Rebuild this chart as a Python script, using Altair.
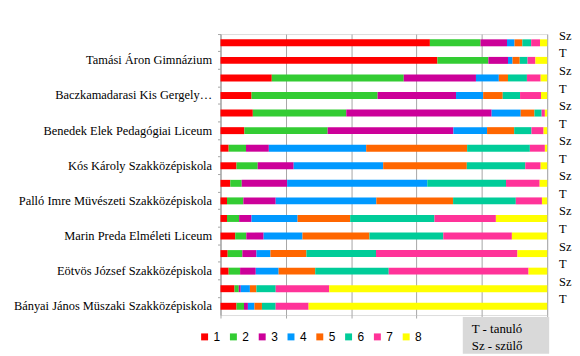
import altair as alt
import pandas as pd

schools = [
    "Tamási Áron Gimnázium",
    "Baczkamadarasi Kis Gergely…",
    "Benedek Elek Pedagógiai Liceum",
    "Kós Károly Szakközépiskola",
    "Palló Imre Müvészeti Szakközépiskola",
    "Marin Preda Elméleti Liceum",
    "Eötvös József Szakközépiskola",
    "Bányai János Müszaki Szakközépiskola",
]
respondents = ["Sz", "T"]
categories = ["1", "2", "3", "4", "5", "6", "7", "8"]
colors = ["#FF0000", "#33CC33", "#CC0099", "#0099FF", "#FF6600", "#00CC99", "#FF3399", "#FFFF00"]

# percentage shares of answers 1..8, parent (Sz) and student (T) per school
tamasi_sz = [64.1, 15.5, 8.1, 2.3, 2.4, 2.7, 2.7, 2.2]
tamasi_t = [66.4, 15.6, 6.0, 1.4, 2.2, 2.4, 2.4, 3.6]
baczka_sz = [15.7, 40.4, 22.1, 7.0, 2.8, 5.8, 4.2, 2.0]
baczka_t = [9.5, 38.6, 24.0, 8.3, 6.0, 5.3, 6.4, 1.9]
benedek_sz = [9.9, 28.6, 44.5, 8.9, 4.2, 2.2, 1.0, 0.7]
benedek_t = [7.3, 25.5, 38.5, 10.3, 8.3, 5.3, 3.7, 1.1]
kos_sz = [2.5, 5.3, 7.0, 29.8, 30.9, 19.2, 4.6, 0.7]
kos_t = [4.9, 6.5, 11.0, 27.4, 25.6, 17.9, 4.7, 2.0]
pallo_sz = [3.0, 3.5, 13.9, 42.9, 0.0, 24.1, 10.3, 2.3]
pallo_t = [2.0, 5.0, 9.9, 30.8, 23.5, 19.2, 8.0, 1.6]
marin_sz = [2.0, 3.7, 3.8, 14.1, 16.1, 25.8, 18.8, 15.7]
marin_t = [4.5, 3.4, 5.3, 11.9, 20.5, 22.6, 21.0, 10.8]
eotvos_sz = [2.2, 4.5, 4.3, 4.3, 11.0, 21.3, 43.3, 9.1]
eotvos_t = [2.5, 3.5, 4.8, 7.0, 11.2, 22.5, 42.8, 5.7]
banyai_sz = [4.3, 1.3, 0.6, 2.8, 2.0, 5.9, 16.4, 66.7]
banyai_t = [4.9, 2.3, 1.2, 2.0, 2.3, 4.2, 10.1, 73.1]

series = [
    (tamasi_sz, tamasi_t), (baczka_sz, baczka_t), (benedek_sz, benedek_t),
    (kos_sz, kos_t), (pallo_sz, pallo_t), (marin_sz, marin_t),
    (eotvos_sz, eotvos_t), (banyai_sz, banyai_t),
]

rows = []
records = []
label_records = []
for school, pair in zip(schools, series):
    for resp, vals in zip(respondents, pair):
        key = school + "|" + resp
        rows.append(key)
        label_records.append({"row": key, "resp": resp})
        for i, (c, v) in enumerate(zip(categories, vals)):
            records.append({"row": key, "cat": c, "idx": i, "value": v})

df = pd.DataFrame(records)
df_lab = pd.DataFrame(label_records)

W, H = 329, 283
GRID = "#A6A6A6"

y_enc = alt.Y(
    "row:N", sort=rows,
    scale=alt.Scale(paddingInner=0, paddingOuter=0),
    axis=alt.Axis(
        title=None, bandPosition=0, tickSize=3, tickColor=GRID, domainColor=GRID,
        labelFont="Liberation Serif", labelFontSize=12.5, labelColor="#000000",
        labelPadding=6, labelLimit=220,
        labelExpr="indexof(datum.value, '|T') > 0 ? substring(datum.value, 0, indexof(datum.value, '|')) : ''",
    ),
)

bars = alt.Chart(df).mark_bar(size=7).encode(
    x=alt.X(
        "value:Q", stack="normalize", scale=alt.Scale(domain=[0, 1], nice=False),
        axis=alt.Axis(
            title=None, labels=False, values=[0, 0.2, 0.4, 0.6, 0.8, 1.0],
            grid=True, gridColor=GRID, ticks=True, tickSize=3, tickColor=GRID, domain=False,
        ),
    ),
    y=y_enc,
    color=alt.Color(
        "cat:N", scale=alt.Scale(domain=categories, range=colors),
        legend=alt.Legend(
            title=None, orient="none", legendX=-22, legendY=299, direction="horizontal",
            columns=8, symbolType="square", symbolSize=49, symbolStrokeWidth=0,
            labelFont="Liberation Sans", labelFontSize=12, labelColor="#000000",
            labelOffset=3, columnPadding=7,
        ),
    ),
    order=alt.Order("idx:Q"),
)

side_labels = alt.Chart(df_lab).mark_text(
    align="left", baseline="middle", dy=-7, font="Liberation Serif", fontSize=12.5, color="#000000"
).encode(
    y=alt.Y("row:N", sort=rows),
    x=alt.value(W + 12),
    text="resp:N",
)

note_df = pd.DataFrame({"a": [0]})
box = alt.Chart(note_df).mark_rect(color="#D9D9D9").encode(
    x=alt.value(244), x2=alt.value(331), y=alt.value(285), y2=alt.value(322)
)
note1 = alt.Chart(note_df).mark_text(
    align="left", baseline="middle", font="Liberation Serif", fontSize=13, color="#000000"
).encode(x=alt.value(253), y=alt.value(297), text=alt.value("T - tanuló"))
note2 = alt.Chart(note_df).mark_text(
    align="left", baseline="middle", font="Liberation Serif", fontSize=13, color="#000000"
).encode(x=alt.value(253), y=alt.value(314), text=alt.value("Sz - szülő"))

chart = alt.layer(bars, side_labels, box, note1, note2).properties(
    width=W, height=H,
    autosize=alt.AutoSizeParams(type="none"),
    padding={"left": 214, "top": 25, "right": 25, "bottom": 38},
).configure_view(stroke=None).configure(background="#FFFFFF")

chart.save("out.html", embed_options={"renderer": "svg", "actions": False})
